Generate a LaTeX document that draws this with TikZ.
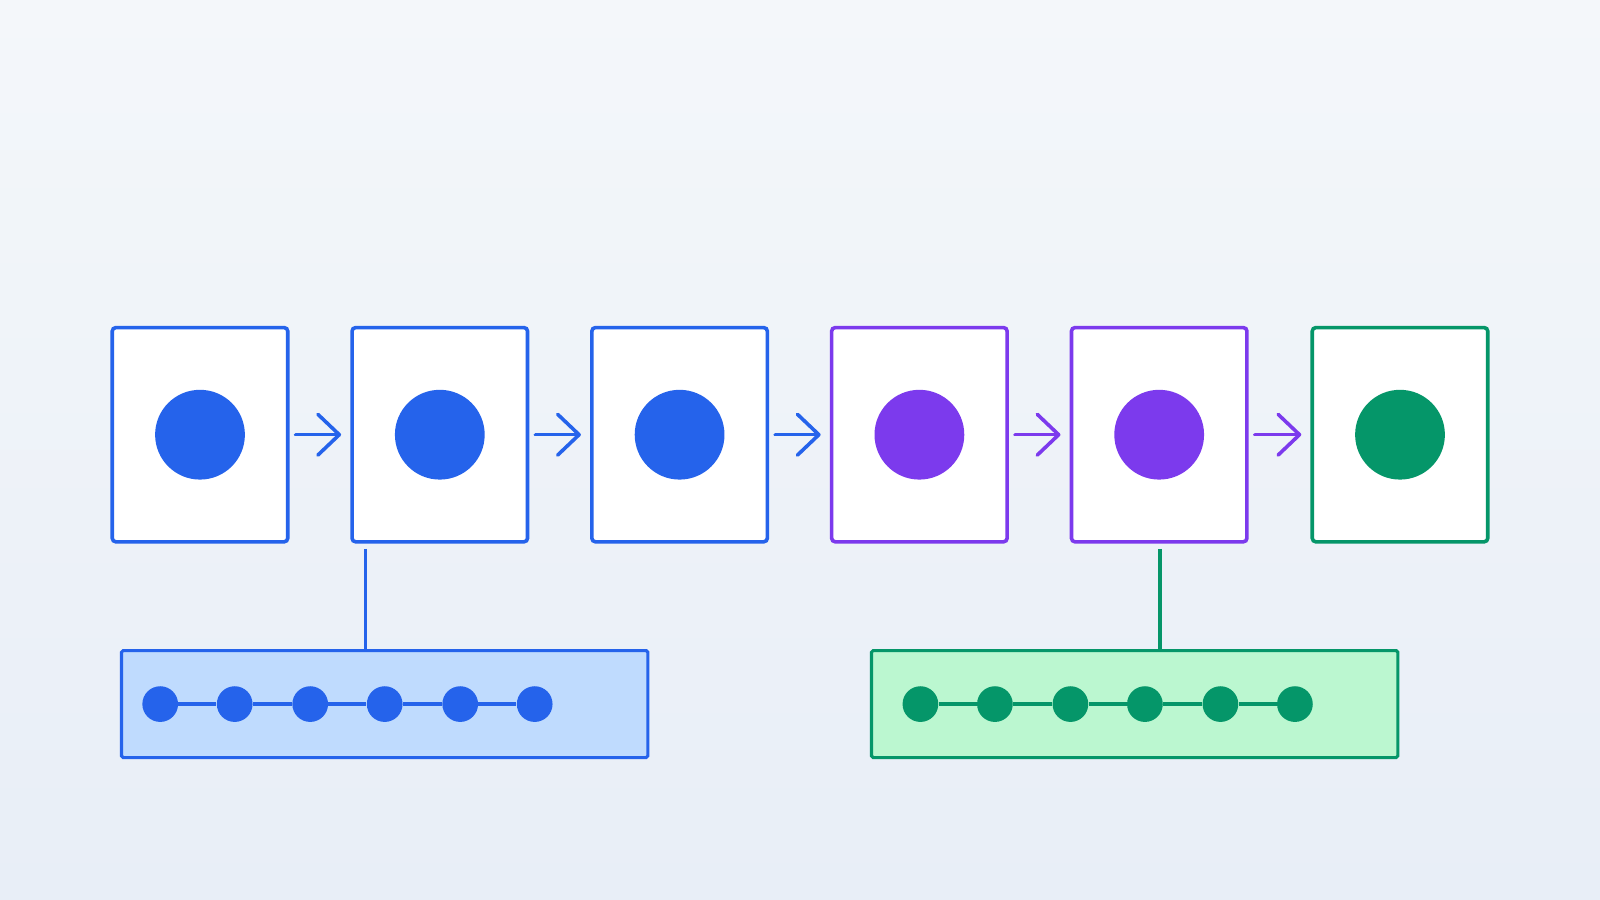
\documentclass[tikz,border=0pt]{standalone}
\usetikzlibrary{arrows.meta}
\definecolor{stageblue}{HTML}{2563EB}
\definecolor{stagepurple}{HTML}{7C3AED}
\definecolor{stagegreen}{HTML}{059669}
\definecolor{trackblue}{HTML}{BFDBFE}
\definecolor{trackgreen}{HTML}{BBF7D0}
\definecolor{bgtop}{HTML}{F4F7FA}
\definecolor{bgbottom}{HTML}{E8EEF7}
\tikzset{
  stagebox/.style={draw=#1, line width=2pt, fill=white, rounded corners=2pt,
    minimum width=3.44cm, minimum height=4.2cm, inner sep=0pt},
  stagedot/.style={circle, fill=#1, minimum size=1.76cm, inner sep=0pt},
  flow/.style={draw=#1, line width=2pt, line cap=round,
    -{Straight Barb[length=0.42cm, width=0.8cm, line cap=round, round]}},
  trackbox/.style={draw=#1, line width=1.7pt, rounded corners=1pt,
    minimum width=10.32cm, minimum height=2.1cm, inner sep=0pt},
  bead/.style={circle, fill=#1, minimum size=0.7cm, inner sep=0pt}
}
\begin{document}
\begin{tikzpicture}[x=0.02cm,y=-0.02cm]
    % Background
    \shade[shading angle=-20, top color=bgtop, bottom color=bgbottom] (0,0) rectangle (1568,882);
    \useasboundingbox (0,0) rectangle (1568,882);

    % Stages
    \foreach \i/\x/\c in {1/196/stageblue, 2/431/stageblue, 3/666/stageblue,
                          4/901/stagepurple, 5/1136/stagepurple, 6/1372/stagegreen} {
        \node[stagebox=\c] (s\i) at (\x,426) {};
        \node[stagedot=\c] (d\i) at (\x,426) {};
    }

    % Arrows
    \foreach \a/\b/\c in {1/2/stageblue, 2/3/stageblue, 3/4/stageblue,
                          4/5/stagepurple, 5/6/stagepurple} {
        \draw[flow=\c] ([xshift=0.12cm]s\a.east) -- ([xshift=-0.18cm]s\b.west);
    }

    % Tracks
    \node[trackbox=stageblue, fill=trackblue] (tb) at (377,690) {};
    \node[trackbox=stagegreen, fill=trackgreen] (tg) at (1112,690) {};
    \foreach \i/\x in {1/157, 2/230, 3/304, 4/377, 5/451, 6/524} {
        \node[bead=stageblue] (b\i) at (\x,690) {};
    }
    \foreach \i/\x in {1/902, 2/975, 3/1049, 4/1122, 5/1196, 6/1269} {
        \node[bead=stagegreen] (g\i) at (\x,690) {};
    }
    \foreach \a/\b in {1/2, 2/3, 3/4, 4/5, 5/6} {
        \draw[stageblue, line width=2pt] (b\a) -- (b\b);
        \draw[stagegreen, line width=2pt] (g\a) -- (g\b);
    }

    % Links
    \coordinate (lb) at (358,538);
    \coordinate (lg) at (1137,538);
    \draw[stageblue, line width=2pt] (lb) -- (lb |- tb.north);
    \draw[stagegreen, line width=2pt] (lg) -- (lg |- tg.north);
\end{tikzpicture}
\end{document}
